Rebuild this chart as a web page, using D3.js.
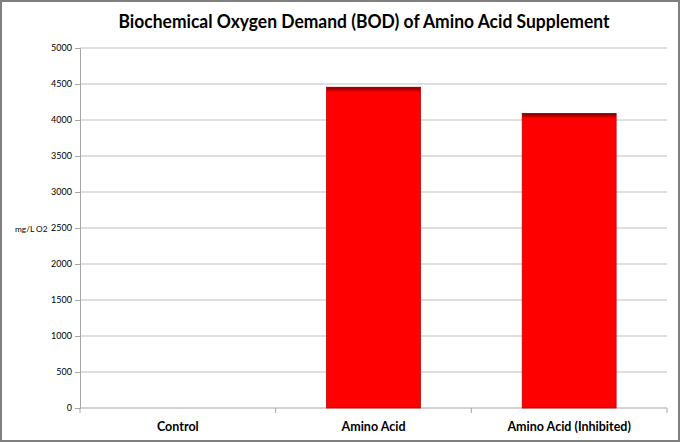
<!DOCTYPE html>
<html>
<head>
<meta charset="utf-8">
<script src="https://cdn.jsdelivr.net/npm/d3@7"></script>
<style>
  body { margin: 0; background: #fff; }
  svg { display: block; font-family: Lato, "Open Sans", sans-serif; }
</style>
</head>
<body>
<div id="chart"></div>
<script>
// chart data
const categories = ["Control", "Amino Acid", "Amino Acid (Inhibited)"];
const bodValues = [0, 4455, 4090];
const yTicks = [0, 500, 1000, 1500, 2000, 2500, 3000, 3500, 4000, 4500, 5000];

const width = 680;
const height = 442;
const margin = { top: 48, right: 13, bottom: 34, left: 80 };

const svg = d3.select("#chart")
    .append("svg")
    .attr("width", width)
    .attr("height", height);

// outer frame
svg.append("rect")
    .attr("x", 1).attr("y", 1)
    .attr("width", width - 2).attr("height", height - 2)
    .attr("fill", "#fff")
    .attr("stroke", "#7f7f7f")
    .attr("stroke-width", 2);

const defs = svg.append("defs");
const grad = defs.append("linearGradient")
    .attr("id", "barTop")
    .attr("x1", 0).attr("y1", 0).attr("x2", 0).attr("y2", 1);
grad.append("stop").attr("offset", "0%").attr("stop-color", "#7a0000");
grad.append("stop").attr("offset", "100%").attr("stop-color", "#ff0000");

const x = d3.scaleBand()
    .domain(categories)
    .range([margin.left, width - margin.right])
    .paddingInner(0.52)
    .paddingOuter(0.26);

const y = d3.scaleLinear()
    .domain([0, 5000])
    .range([height - margin.bottom, margin.top]);

// gridlines
svg.append("g")
    .selectAll("line")
    .data(yTicks.filter(d => d > 0))
    .enter()
    .append("line")
    .attr("x1", margin.left)
    .attr("x2", width - margin.right)
    .attr("y1", d => y(d))
    .attr("y2", d => y(d))
    .attr("stroke", "#bfbfbf")
    .attr("stroke-width", 1);

// y axis
const yAxis = svg.append("g")
    .attr("transform", `translate(${margin.left},0)`)
    .call(d3.axisLeft(y).tickValues(yTicks).tickSize(5).tickPadding(3).tickFormat(d3.format("d")));
yAxis.select(".domain").attr("stroke", "#a6a6a6");
yAxis.selectAll(".tick line").attr("stroke", "#a6a6a6");
yAxis.selectAll("text")
    .attr("font-size", "9px")
    .attr("fill", "#000")
    .attr("font-family", "Lato, sans-serif");

// x axis with ticks at category boundaries
const xAxis = svg.append("g")
    .attr("transform", `translate(0,${height - margin.bottom})`);
xAxis.append("line")
    .attr("x1", margin.left).attr("x2", width - margin.right)
    .attr("stroke", "#a6a6a6");
const step = x.step();
const boundaries = categories.map((c, i) => i === 0 ? margin.left : x(c) - x.paddingInner() * step / 2);
boundaries.push(width - margin.right);
xAxis.selectAll(".bt")
    .data(boundaries)
    .enter()
    .append("line")
    .attr("x1", d => d).attr("x2", d => d)
    .attr("y1", 0).attr("y2", 5)
    .attr("stroke", "#a6a6a6");
xAxis.selectAll("text")
    .data(categories)
    .enter()
    .append("text")
    .attr("x", d => x(d) + x.bandwidth() / 2)
    .attr("y", 23)
    .attr("text-anchor", "middle")
    .attr("font-size", "12.5px")
    .attr("font-weight", "bold")
    .attr("fill", "#000")
    .text(d => d);

// bars
const bars = svg.append("g")
    .selectAll("g")
    .data(bodValues.map((v, i) => ({ cat: categories[i], value: v })).filter(d => d.value > 0))
    .enter()
    .append("g");

bars.append("rect")
    .attr("x", d => x(d.cat))
    .attr("y", d => y(d.value))
    .attr("width", x.bandwidth())
    .attr("height", d => y(0) - y(d.value))
    .attr("fill", "#ff0000")
    .attr("stroke", "#c00000")
    .attr("stroke-width", 0.8);

bars.append("rect")
    .attr("x", d => x(d.cat))
    .attr("y", d => y(d.value))
    .attr("width", x.bandwidth())
    .attr("height", 5)
    .attr("fill", "url(#barTop)");

// y axis title
svg.append("text")
    .attr("x", 15)
    .attr("y", 232)
    .attr("font-size", "8.3px")
    .attr("fill", "#000")
    .text("mg/L O2");

// chart title
svg.append("text")
    .attr("x", 364)
    .attr("y", 28)
    .attr("text-anchor", "middle")
    .attr("font-size", "19.5px")
    .attr("font-weight", "bold")
    .attr("fill", "#000")
    .attr("textLength", 491)
    .attr("lengthAdjust", "spacingAndGlyphs")
    .text("Biochemical Oxygen Demand (BOD) of Amino Acid Supplement");
</script>
</body>
</html>
